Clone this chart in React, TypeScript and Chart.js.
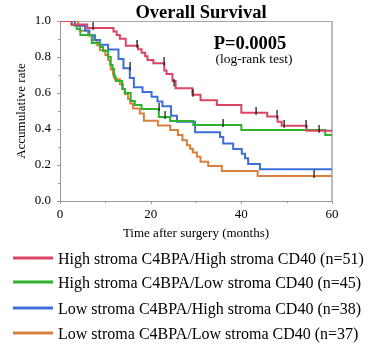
import React, { useEffect, useRef } from "react";
import { Chart, registerables } from "chart.js";

Chart.register(...registerables);

const TITLE = "Overall Survival";
const P_TEXT = "P=0.0005";
const P_SUB = "(log-rank test)";
const X_TITLE = "Time after surgery (months)";
const Y_TITLE = "Accumulative rate";
const X_MIN = 0;
const X_MAX = 60;
const X_STEP = 20;
const Y_MIN = 0;
const Y_MAX = 1;
const Y_STEP = 0.2;

const SERIES_LABELS = [
  "High stroma C4BPA/High stroma CD40 (n=51)",
  "High stroma C4BPA/Low stroma CD40 (n=45)",
  "Low stroma C4BPA/High stroma CD40 (n=38)",
  "Low stroma C4BPA/Low stroma CD40 (n=37)",
];
const SERIES_COLORS = ["#dc4563", "#2fb32f", "#3d6fd8", "#d9803d"];

// Red: High C4BPA / High CD40
const redTimes = [0, 2.5, 6, 11.8, 12.5, 13.2, 14.5, 17.2, 18, 18.8, 19.3, 20.6, 23, 23.5, 24.8, 25.5, 29.2, 31, 34.6, 40, 45.7, 48, 48.9, 54.4, 60];
const redSurv = [1, 0.98, 0.961, 0.941, 0.922, 0.902, 0.863, 0.843, 0.824, 0.804, 0.784, 0.765, 0.725, 0.706, 0.667, 0.627, 0.59, 0.56, 0.533, 0.49, 0.47, 0.44, 0.418, 0.39, 0.39];
const redCensorTimes = [7.3, 16.9, 22.9, 25.2, 29.4, 43.2, 47.9, 49.4, 54.2, 57.1];
const redCensorSurv = [0.961, 0.863, 0.765, 0.647, 0.59, 0.49, 0.47, 0.418, 0.418, 0.39];

// Green: High C4BPA / Low CD40
const greenTimes = [0, 2.6, 3.7, 4.5, 7, 8.8, 9.5, 10.6, 11.2, 11.6, 11.9, 12.3, 13.7, 14.3, 15.6, 16.5, 18, 21.8, 24.3, 29.4, 40, 58.5, 60];
const greenSurv = [1, 0.978, 0.956, 0.922, 0.878, 0.856, 0.833, 0.8, 0.756, 0.733, 0.689, 0.667, 0.622, 0.6, 0.556, 0.533, 0.511, 0.467, 0.444, 0.422, 0.394, 0.367, 0.367];
const greenCensorTimes = [21.8, 23.2, 35.9];
const greenCensorSurv = [0.511, 0.467, 0.422];

// Blue: Low C4BPA / High CD40
const blueTimes = [0, 3.3, 5.5, 6.5, 7.7, 8.8, 10.6, 12.9, 14, 15.4, 16.3, 18.2, 20.2, 21.5, 22.6, 24.5, 25.8, 29.8, 35.3, 36, 38.2, 40.1, 40.8, 41.5, 44.1, 60];
const blueSurv = [1, 0.974, 0.947, 0.921, 0.895, 0.868, 0.842, 0.789, 0.737, 0.684, 0.632, 0.605, 0.579, 0.553, 0.526, 0.474, 0.44, 0.382, 0.355, 0.32, 0.289, 0.263, 0.237, 0.205, 0.176, 0.176];
const blueCensorTimes = [15.4];
const blueCensorSurv = [0.737];

// Orange: Low C4BPA / Low CD40
const orangeTimes = [0, 4, 4.4, 6.2, 7.3, 8.2, 8.8, 10, 10.6, 11, 11.2, 11.7, 12.1, 13.2, 13.9, 14.3, 15, 15.5, 16.1, 17.6, 18.5, 21.6, 24.3, 26, 27, 28, 28.7, 29.3, 30.2, 31, 32.7, 35.7, 43.6, 60];
const orangeSurv = [1, 0.973, 0.946, 0.919, 0.892, 0.865, 0.838, 0.811, 0.784, 0.757, 0.73, 0.703, 0.676, 0.649, 0.622, 0.595, 0.568, 0.541, 0.514, 0.486, 0.446, 0.42, 0.394, 0.367, 0.338, 0.31, 0.29, 0.27, 0.246, 0.218, 0.194, 0.167, 0.139, 0.139];
const orangeCensorTimes = [56];
const orangeCensorSurv = [0.139];

const SERIF = '"Liberation Serif", "Times New Roman", serif';

function toPoints(xs: number[], ys: number[]) {
  return xs.map((x, i) => ({ x, y: ys[i] }));
}

export default function App() {
  const ref = useRef<HTMLCanvasElement | null>(null);

  useEffect(() => {
    if (!ref.current) return;

    // censor mark: short vertical line, mostly above the point
    const mark = document.createElement("canvas");
    mark.width = 2;
    mark.height = 12;
    const mctx = mark.getContext("2d")!;
    mctx.fillStyle = "#111";
    mctx.fillRect(0.5, 0, 1.2, 8);

    const curves = [
      { t: redTimes, s: redSurv },
      { t: greenTimes, s: greenSurv },
      { t: blueTimes, s: blueSurv },
      { t: orangeTimes, s: orangeSurv },
    ];
    const censors = [
      { t: redCensorTimes, s: redCensorSurv },
      { t: greenCensorTimes, s: greenCensorSurv },
      { t: blueCensorTimes, s: blueCensorSurv },
      { t: orangeCensorTimes, s: orangeCensorSurv },
    ];

    const datasets: any[] = [];
    curves.forEach((c, i) => {
      datasets.push({
        type: "line",
        label: SERIES_LABELS[i],
        data: toPoints(c.t, c.s),
        borderColor: SERIES_COLORS[i],
        borderWidth: 2,
        stepped: "before",
        pointRadius: 0,
        fill: false,
        order: i + 1,
      });
    });
    censors.forEach((c, i) => {
      datasets.push({
        type: "scatter",
        label: SERIES_LABELS[i] + " censored",
        data: toPoints(c.t, c.s),
        pointStyle: mark,
        pointRadius: 4,
        showLine: false,
        order: 0,
      });
    });

    const decor = {
      id: "decor",
      beforeDatasetsDraw(chart: any) {
        const { ctx, chartArea: a, scales } = chart;
        ctx.save();
        ctx.strokeStyle = "#a8a8a8";
        ctx.lineWidth = 1;
        ctx.beginPath();
        ctx.moveTo(a.left, a.top + 0.5);
        ctx.lineTo(a.right, a.top + 0.5);
        ctx.stroke();
        ctx.lineWidth = 1.5;
        ctx.beginPath();
        ctx.moveTo(a.right, a.top);
        ctx.lineTo(a.right, a.bottom);
        ctx.stroke();
        ctx.lineWidth = 1;
        ctx.strokeStyle = "#999";
        // x ticks
        for (let v = X_MIN; v <= X_MAX + 1e-9; v += X_STEP / 2) {
          const px = Math.round(scales.x.getPixelForValue(v)) + 0.5;
          const major = Math.abs(v / X_STEP - Math.round(v / X_STEP)) < 1e-6;
          ctx.beginPath();
          ctx.moveTo(px, a.bottom);
          ctx.lineTo(px, a.bottom + (major ? 3 : 2));
          ctx.stroke();
        }
        for (let v = Y_MIN; v <= Y_MAX + 1e-9; v += Y_STEP / 2) {
          const py = Math.round(scales.y.getPixelForValue(v)) + 0.5;
          const major = Math.abs(v / Y_STEP - Math.round(v / Y_STEP)) < 1e-6;
          ctx.beginPath();
          ctx.moveTo(a.left, py);
          ctx.lineTo(a.left - (major ? 3 : 2), py);
          ctx.stroke();
        }
        ctx.restore();
      },
      afterDraw(chart: any) {
        const { ctx } = chart;
        ctx.save();
        ctx.fillStyle = "#000";
        ctx.textAlign = "center";
        ctx.textBaseline = "alphabetic";
        ctx.font = `bold 18.5px ${SERIF}`;
        ctx.fillText(TITLE, 201, 17.5);
        ctx.font = `bold 18.5px ${SERIF}`;
        ctx.fillText(P_TEXT, 250, 48.5);
        ctx.font = `13.5px ${SERIF}`;
        ctx.fillText(P_SUB, 254, 62.5);

        const ys = [258, 282, 308, 333];
        ctx.textAlign = "left";
        ctx.font = `16px ${SERIF}`;
        SERIES_LABELS.forEach((lab, i) => {
          ctx.strokeStyle = SERIES_COLORS[i];
          ctx.lineWidth = 3;
          ctx.beginPath();
          ctx.moveTo(13, ys[i]);
          ctx.lineTo(53, ys[i]);
          ctx.stroke();
          ctx.fillStyle = "#000";
          ctx.fillText(lab, 58, ys[i] + 5.5);
        });
        ctx.restore();
      },
    };

    const chart = new Chart(ref.current, {
      type: "line",
      data: { datasets },
      options: {
        animation: false,
        responsive: false,
        devicePixelRatio: 1,
        layout: { padding: { left: 10, top: 21, right: 42, bottom: 101 } },
        plugins: {
          legend: { display: false },
          tooltip: { enabled: false },
          title: { display: false },
        },
        scales: {
          x: {
            type: "linear",
            min: X_MIN,
            max: X_MAX,
            afterFit: (s: any) => {
              s.height = 44;
            },
            ticks: {
              stepSize: X_STEP,
              color: "#000",
              padding: 6,
              font: { family: SERIF, size: 13 },
            },
            grid: { display: false, drawTicks: false },
            border: { display: true, color: "#999", width: 1 },
            title: {
              display: true,
              text: X_TITLE,
              color: "#000",
              font: { family: SERIF, size: 13 },
              padding: { top: 4, bottom: 4 },
            },
          },
          y: {
            type: "linear",
            min: Y_MIN,
            max: Y_MAX,
            afterFit: (s: any) => {
              s.width = 50;
            },
            ticks: {
              stepSize: Y_STEP,
              color: "#000",
              padding: 9,
              font: { family: SERIF, size: 13 },
              callback: (v: any) => Number(v).toFixed(1),
            },
            grid: { display: false, drawTicks: false },
            border: { display: true, color: "#999", width: 1 },
            title: {
              display: true,
              text: Y_TITLE,
              color: "#000",
              font: { family: SERIF, size: 13 },
              padding: { top: 4, bottom: 4 },
            },
          },
        },
      },
      plugins: [decor],
    } as any);

    return () => chart.destroy();
  }, []);

  return (
    <div style={{ position: "absolute", left: 0, top: 0, width: 374, height: 346, background: "#fff" }}>
      <canvas ref={ref} width={374} height={346} style={{ width: 374, height: 346, display: "block" }} />
    </div>
  );
}
